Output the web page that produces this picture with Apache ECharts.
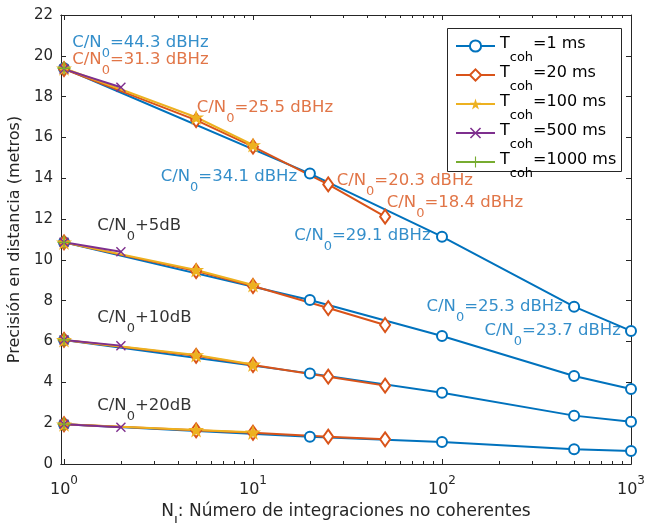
<!DOCTYPE html>
<html>
<head>
<meta charset="utf-8">
<script src="https://cdn.jsdelivr.net/npm/echarts@6/dist/echarts.min.js"></script>
<style>
  html, body { margin: 0; background: #fff; }
  #chart { width: 646px; height: 523px; }
</style>
</head>
<body>
<div id="chart"></div>
<script>
// valores de N (integraciones no coherentes) por cada T_coh
const nT1 = [1, 20, 100, 500, 1000];
const nT20 = [1, 5, 10, 25, 50];
const nT100 = [1, 5, 10];
const nT500 = [1, 2];
const nT1000 = [1];

// precision (metros), una fila por grupo: C/N0, +5dB, +10dB, +20dB
const precT1 = [
  [19.39, 14.23, 11.14, 7.71, 6.52],
  [10.86, 8.04, 6.27, 4.31, 3.67],
  [6.08, 4.44, 3.49, 2.37, 2.07],
  [1.95, 1.34, 1.08, 0.72, 0.64]
];
const precT20 = [
  [19.35, 16.85, 15.55, 13.70, 12.12],
  [10.86, 9.45, 8.72, 7.64, 6.81],
  [6.08, 5.30, 4.85, 4.28, 3.84],
  [1.95, 1.65, 1.53, 1.34, 1.21]
];
const precT100 = [
  [19.39, 16.99, 15.63],
  [10.86, 9.51, 8.77],
  [6.08, 5.34, 4.88],
  [1.95, 1.67, 1.55]
];
const precT500 = [
  [19.35, 18.46],
  [10.86, 10.40],
  [6.08, 5.80],
  [1.95, 1.80]
];
const precT1000 = [[19.39], [10.86], [6.08], [1.95]];

const tcohLabels = ['1', '20', '100', '500', '1000'];

// anotaciones C/N0
const annoText = ['=44.3 dBHz', '=31.3 dBHz', '=25.5 dBHz', '=34.1 dBHz', '=20.3 dBHz',
  '=18.4 dBHz', '=29.1 dBHz', '=25.3 dBHz', '=23.7 dBHz', '+5dB', '+10dB', '+20dB'];
const annoN = [1.106, 1.106, 5.04, 17.1, 27.7, 51.0, 87.1, 436, 883, 1.50, 1.50, 1.50];
const annoPrec = [20.64, 19.83, 17.48, 14.08, 13.87, 12.79, 11.19, 7.71, 6.52, 11.68, 7.19, 2.86];
const annoSerie = [0, 1, 1, 0, 1, 1, 0, 0, 0, -1, -1, -1];
const annoSide = ['right', 'right', 'right', 'left', 'right', 'right', 'left', 'left', 'left', 'right', 'right', 'right'];

const FONT = 'DejaVu Sans';
const AX = '#262626';
const colors = ['#0072BD', '#D95319', '#EDB120', '#7E2F8E', '#77AC30'];
const starPath = 'path://M50,0L61.2,34.5L97.6,34.5L68.2,55.9L79.4,90.5L50,69.1L20.6,90.5L31.8,55.9L2.4,34.5L38.8,34.5Z';
const crossPath = 'path://M0,2L2,0L10,8L18,0L20,2L12,10L20,18L18,20L10,12L2,20L0,18L8,10Z';
const plusPath = 'path://M9,0H11V9H20V11H11V20H9V11H0V9H9Z';
const symbols = [
  { symbol: 'emptyCircle', size: 10, border: 2 },
  { symbol: 'emptyDiamond', size: [10, 14], border: 2 },
  { symbol: starPath, size: 16, border: 0 },
  { symbol: crossPath, size: 10, border: 0 },
  { symbol: plusPath, size: 13, border: 0 }
];

const nValues = [nT1, nT20, nT100, nT500, nT1000];
const precValues = [precT1, precT20, precT100, precT500, precT1000];
const serieNames = tcohLabels.map(t => 'T_coh=' + t + ' ms');

const series = [];
serieNames.forEach((name, k) => {
  precValues[k].forEach(grupo => {
    series.push({
      type: 'line',
      name: name,
      data: nValues[k].map((n, i) => [n, grupo[i]]),
      symbol: symbols[k].symbol,
      symbolSize: symbols[k].size,
      symbolKeepAspect: true,
      showAllSymbol: true,
      lineStyle: { color: colors[k], width: 2 },
      itemStyle: { color: colors[k], borderColor: colors[k], borderWidth: symbols[k].border },
      emphasis: { disabled: true }
    });
  });
});

// serie de textos
series.push({
  type: 'scatter',
  silent: true,
  symbolSize: 0,
  z: 5,
  data: annoText.map((t, i) => ({
    value: [annoN[i], annoPrec[i]],
    label: {
      show: true,
      position: annoSide[i],
      distance: 0,
      offset: [0, 1.5],
      color: annoSerie[i] < 0 ? '#000' : colors[annoSerie[i]],
      formatter: '{a|C/N}{s|0}{a|' + t + '}'
    }
  })),
  label: {
    fontFamily: FONT,
    rich: {
      a: { fontFamily: FONT, fontSize: 16.5, lineHeight: 20, verticalAlign: 'top' },
      s: { fontFamily: FONT, fontSize: 13, lineHeight: 14, padding: [13, 0, 0, 0], verticalAlign: 'top' }
    }
  }
});

const xMin = 0.964, xMax = 1000;
const majorX = [1, 10, 100, 1000];
const minorX = [2, 3, 4, 5, 6, 7, 8, 9, 20, 30, 40, 50, 60, 70, 80, 90, 200, 300, 400, 500, 600, 700, 800, 900];

function xAxisDef(pos, ticks, len, labels) {
  return {
    type: 'log', logBase: 10, min: xMin, max: xMax, position: pos,
    axisLine: { show: true, onZero: false, lineStyle: { color: AX, width: 1 } },
    axisTick: { show: true, inside: true, length: len, customValues: ticks, lineStyle: { color: AX } },
    splitLine: { show: false },
    axisLabel: labels ? {
      show: true, margin: 16, customValues: majorX, color: AX,
      formatter: v => '{b|10}{p|' + Math.round(Math.log10(v)) + '}',
      rich: {
        b: { fontFamily: FONT, fontSize: 16, lineHeight: 18, verticalAlign: 'bottom', color: AX },
        p: { fontFamily: FONT, fontSize: 12, lineHeight: 12, padding: [0, 0, 11, 0], verticalAlign: 'bottom', color: AX }
      }
    } : { show: false }
  };
}

const xAxes = [
  xAxisDef('bottom', majorX, 5, true),
  xAxisDef('bottom', minorX, 3, false),
  xAxisDef('top', majorX, 5, false),
  xAxisDef('top', minorX, 3, false)
];
xAxes[0].name = '{n|N}{u|I}{n|: Número de integraciones no coherentes}';
xAxes[0].nameLocation = 'middle';
xAxes[0].nameGap = 34;
xAxes[0].nameTextStyle = {
  color: AX,
  rich: {
    n: { fontFamily: FONT, fontSize: 17, lineHeight: 20, verticalAlign: 'top', color: AX },
    u: { fontFamily: FONT, fontSize: 13, lineHeight: 12, padding: [12, 0, 0, 0], verticalAlign: 'top', color: AX }
  }
};

function yAxisDef(pos, labels) {
  return {
    type: 'value', min: 0, max: 22, interval: 2, position: pos,
    axisLine: { show: true, onZero: false, lineStyle: { color: AX, width: 1 } },
    axisTick: { show: true, inside: true, length: 5, lineStyle: { color: AX } },
    splitLine: { show: false },
    axisLabel: labels ? { show: true, margin: 8, color: AX, fontFamily: FONT, fontSize: 15 } : { show: false }
  };
}
const yAxes = [yAxisDef('left', true), yAxisDef('right', false)];
yAxes[0].name = 'Precisión en distancia (metros)';
yAxes[0].nameLocation = 'middle';
yAxes[0].nameGap = 35;
yAxes[0].nameTextStyle = { color: AX, fontFamily: FONT, fontSize: 16 };

const chart = echarts.init(document.getElementById('chart'));
chart.setOption({
  animation: false,
  backgroundColor: '#fff',
  grid: { left: 61, right: 15, top: 15, bottom: 59, containLabel: false, outerBoundsMode: 'none' },
  xAxis: xAxes,
  yAxis: yAxes,
  // marco de la leyenda
  graphic: [{
    type: 'rect',
    z: 3,
    silent: true,
    shape: { x: 447.5, y: 28.5, width: 174, height: 143 },
    style: { fill: '#fff', stroke: AX, lineWidth: 1 }
  }],
  legend: {
    data: serieNames,
    orient: 'vertical',
    left: 447,
    top: 33,
    padding: [3, 6, 2, 8],
    itemGap: 1,
    itemWidth: 39,
    itemHeight: 14,
    selectedMode: false,
    formatter: name => {
      const t = name.replace('T_coh', '');
      return '{t|T}{s|coh}{t|' + t + '}';
    },
    textStyle: {
      color: '#000',
      rich: {
        t: { fontFamily: FONT, fontSize: 16, lineHeight: 20, verticalAlign: 'top', color: '#000' },
        s: { fontFamily: FONT, fontSize: 13, lineHeight: 12, padding: [15, 0, 0, 0], verticalAlign: 'top', color: '#000' }
      }
    }
  },
  series: series
});
</script>
</body>
</html>
